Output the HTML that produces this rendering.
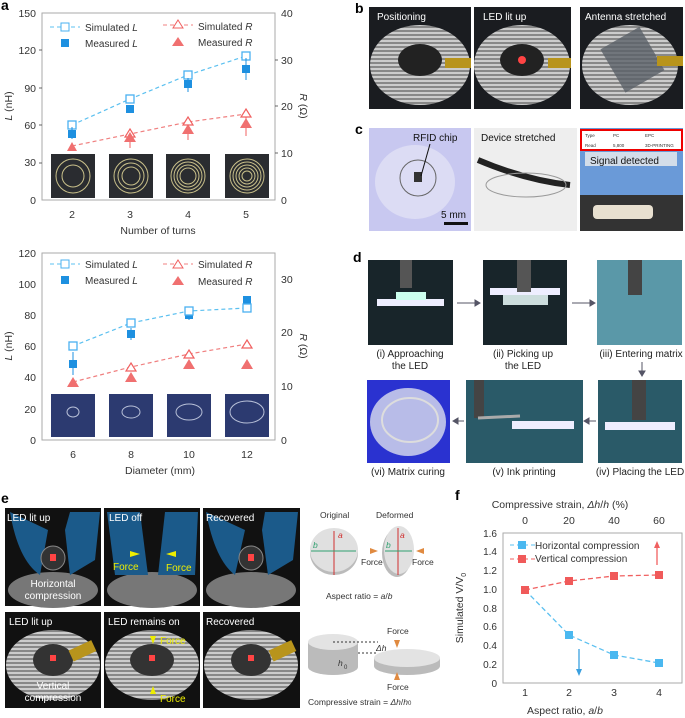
<!DOCTYPE html>
<html><head><meta charset="utf-8"><style>
body{margin:0;background:#fff}
svg{display:block;font-family:"Liberation Sans",sans-serif}
</style></head><body>
<svg width="685" height="718" viewBox="0 0 685 718" xmlns="http://www.w3.org/2000/svg">
<defs>
<radialGradient id="coil" cx="50%" cy="55%" r="50%"><stop offset="0" stop-color="#222"/><stop offset="0.35" stop-color="#333"/><stop offset="0.4" stop-color="#bbb"/><stop offset="0.9" stop-color="#999"/><stop offset="1" stop-color="#111"/></radialGradient>
<pattern id="rings" width="4" height="4" patternUnits="userSpaceOnUse"><rect width="4" height="4" fill="#888"/><rect width="4" height="2" fill="#ccc"/></pattern>
</defs>
<g font-size="11" fill="#333">
<!-- ===== Panel a top ===== -->
<text x="1" y="10" font-weight="bold" font-size="14" fill="#000">a</text>
<rect x="42" y="13" width="233" height="187" fill="none" stroke="#aaa"/>
<g text-anchor="end" font-size="10.5"><text x="36" y="17">150</text><text x="36" y="54">120</text><text x="36" y="92">90</text><text x="36" y="129">60</text><text x="36" y="166">30</text><text x="36" y="204">0</text></g>
<g font-size="10.5"><text x="281" y="17">40</text><text x="281" y="64">30</text><text x="281" y="110">20</text><text x="281" y="157">10</text><text x="281" y="204">0</text></g>
<g text-anchor="middle" font-size="10.5"><text x="72" y="218">2</text><text x="130" y="218">3</text><text x="188" y="218">4</text><text x="246" y="218">5</text><text x="158" y="234">Number of turns</text></g>
<text transform="translate(12,106) rotate(-90)" text-anchor="middle" font-size="10.5"><tspan font-style="italic">L</tspan> (nH)</text>
<text transform="translate(300,106) rotate(90)" text-anchor="middle" font-size="10.5"><tspan font-style="italic">R</tspan> (Ω)</text>
<g stroke="#444" stroke-width="0.8"><line x1="42" y1="50" x2="39" y2="50"/><line x1="42" y1="88" x2="39" y2="88"/><line x1="42" y1="125" x2="39" y2="125"/><line x1="42" y1="163" x2="39" y2="163"/><line x1="275" y1="60" x2="278" y2="60"/><line x1="275" y1="106" x2="278" y2="106"/><line x1="275" y1="153" x2="278" y2="153"/></g>
<g fill="#333">
<rect x="51" y="154" width="44" height="44" fill="#2a2c30"/><rect x="109" y="154" width="44" height="44" fill="#2a2c30"/><rect x="166" y="154" width="44" height="44" fill="#2a2c30"/><rect x="225" y="154" width="44" height="44" fill="#2a2c30"/>
<g fill="none" stroke="#c9c08a" stroke-width="1"><circle cx="73" cy="176" r="17"/><circle cx="73" cy="176" r="11"/><circle cx="131" cy="176" r="17"/><circle cx="131" cy="176" r="13"/><circle cx="131" cy="176" r="9"/><circle cx="188" cy="176" r="17"/><circle cx="188" cy="176" r="14"/><circle cx="188" cy="176" r="11"/><circle cx="188" cy="176" r="8"/><circle cx="247" cy="176" r="17"/><circle cx="247" cy="176" r="14"/><circle cx="247" cy="176" r="11"/><circle cx="247" cy="176" r="8"/><circle cx="247" cy="176" r="5"/></g>
</g>
<polyline points="72,125 130,99 188,75 246,56" fill="none" stroke="#5bc0f0" stroke-dasharray="4,3" stroke-width="1.2"/>
<polyline points="72,146 130,134 188,122 246,114" fill="none" stroke="#f08080" stroke-dasharray="4,3" stroke-width="1.2"/>
<g fill="#fff" stroke="#4ab0f0" stroke-width="1.3"><rect x="68" y="121" width="8" height="8"/><rect x="126" y="95" width="8" height="8"/><rect x="184" y="71" width="8" height="8"/><rect x="242" y="52" width="8" height="8"/></g>
<g stroke="#1e90e0"><line x1="72" y1="127" x2="72" y2="139"/><line x1="188" y1="78" x2="188" y2="92"/><line x1="246" y1="58" x2="246" y2="80"/></g>
<g fill="#1e90e0"><rect x="68" y="130" width="8" height="8"/><rect x="126" y="105" width="8" height="8"/><rect x="184" y="80" width="8" height="8"/><rect x="242" y="65" width="8" height="8"/></g>
<g stroke="#f06060"><line x1="130" y1="130" x2="130" y2="148"/><line x1="188" y1="122" x2="188" y2="140"/><line x1="246" y1="114" x2="246" y2="136"/></g>
<g fill="#fff" stroke="#f06060" stroke-width="1.2"><polygon points="130,129 135,137 125,137"/><polygon points="188,117 193,125 183,125"/><polygon points="246,109 251,117 241,117"/></g>
<g fill="#f07070"><polygon points="72,142 77,151 67,151"/><polygon points="130,132 136,142 124,142"/><polygon points="188,124 194,134 182,134"/><polygon points="246,118 252,128 240,128"/></g>
<g font-size="10"><line x1="50" y1="27" x2="80" y2="27" stroke="#5bc0f0" stroke-dasharray="4,3"/><rect x="61" y="23" width="8" height="8" fill="#fff" stroke="#4ab0f0"/><text x="85" y="31">Simulated <tspan font-style="italic">L</tspan></text>
<rect x="61" y="39" width="8" height="8" fill="#1e90e0"/><text x="85" y="47">Measured <tspan font-style="italic">L</tspan></text>
<line x1="163" y1="25" x2="193" y2="25" stroke="#f08080" stroke-dasharray="4,3"/><polygon points="178,20 183,28 173,28" fill="#fff" stroke="#f06060"/><text x="198" y="30">Simulated <tspan font-style="italic">R</tspan></text>
<polygon points="178,37 184,46 172,46" fill="#f07070"/><text x="198" y="46">Measured <tspan font-style="italic">R</tspan></text></g>

<!-- ===== Panel a bottom ===== -->
<rect x="42" y="253" width="233" height="187" fill="none" stroke="#aaa"/>
<g text-anchor="end" font-size="10.5"><text x="36" y="257">120</text><text x="36" y="288">100</text><text x="36" y="319">80</text><text x="36" y="350">60</text><text x="36" y="381">40</text><text x="36" y="413">20</text><text x="36" y="444">0</text></g>
<g font-size="10.5"><text x="281" y="283">30</text><text x="281" y="336">20</text><text x="281" y="390">10</text><text x="281" y="444">0</text></g>
<g text-anchor="middle" font-size="10.5"><text x="73" y="458">6</text><text x="131" y="458">8</text><text x="189" y="458">10</text><text x="247" y="458">12</text><text x="160" y="474">Diameter (mm)</text></g>
<text transform="translate(12,346) rotate(-90)" text-anchor="middle" font-size="10.5"><tspan font-style="italic">L</tspan> (nH)</text>
<text transform="translate(300,346) rotate(90)" text-anchor="middle" font-size="10.5"><tspan font-style="italic">R</tspan> (Ω)</text>
<g fill="#2c3a70"><rect x="51" y="394" width="44" height="43"/><rect x="109" y="394" width="44" height="43"/><rect x="167" y="394" width="44" height="43"/><rect x="225" y="394" width="44" height="43"/></g>
<g fill="none" stroke="#b8c0d8" stroke-width="1"><ellipse cx="73" cy="412" rx="6" ry="5"/><ellipse cx="131" cy="412" rx="9" ry="6"/><ellipse cx="189" cy="412" rx="13" ry="8"/><ellipse cx="247" cy="412" rx="17" ry="11"/></g>
<polyline points="73,346 131,323 189,311 247,308" fill="none" stroke="#5bc0f0" stroke-dasharray="4,3" stroke-width="1.2"/>
<polyline points="73,382 131,367 189,354 247,344" fill="none" stroke="#f08080" stroke-dasharray="4,3" stroke-width="1.2"/>
<g stroke="#1e90e0"><line x1="73" y1="352" x2="73" y2="375"/><line x1="131" y1="328" x2="131" y2="340"/><line x1="189" y1="308" x2="189" y2="320"/></g>
<g fill="#1e90e0"><rect x="69" y="360" width="8" height="8"/><rect x="127" y="330" width="8" height="8"/><rect x="185" y="311" width="8" height="8"/><rect x="243" y="296" width="8" height="8"/></g>
<g fill="#fff" stroke="#4ab0f0" stroke-width="1.3"><rect x="69" y="342" width="8" height="8"/><rect x="127" y="319" width="8" height="8"/><rect x="185" y="307" width="8" height="8"/><rect x="243" y="304" width="8" height="8"/></g>
<g fill="#fff" stroke="#f06060" stroke-width="1.2"><polygon points="131,363 136,371 126,371"/><polygon points="189,350 194,358 184,358"/><polygon points="247,340 252,348 242,348"/></g>
<g fill="#f07070"><polygon points="73,377 79,387 67,387"/><polygon points="131,372 137,382 125,382"/><polygon points="189,359 195,369 183,369"/><polygon points="247,359 253,369 241,369"/></g>
<g font-size="10"><line x1="50" y1="264" x2="80" y2="264" stroke="#5bc0f0" stroke-dasharray="4,3"/><rect x="61" y="260" width="8" height="8" fill="#fff" stroke="#4ab0f0"/><text x="85" y="268">Simulated <tspan font-style="italic">L</tspan></text>
<rect x="61" y="276" width="8" height="8" fill="#1e90e0"/><text x="85" y="284">Measured <tspan font-style="italic">L</tspan></text>
<line x1="163" y1="264" x2="193" y2="264" stroke="#f08080" stroke-dasharray="4,3"/><polygon points="178,260 183,268 173,268" fill="#fff" stroke="#f06060"/><text x="198" y="268">Simulated <tspan font-style="italic">R</tspan></text>
<polygon points="178,276 184,285 172,285" fill="#f07070"/><text x="198" y="285">Measured <tspan font-style="italic">R</tspan></text></g>

<!-- ===== Panel b ===== -->
<text x="355" y="13" font-weight="bold" font-size="14" fill="#000">b</text>
<g>
<rect x="369" y="7" width="102" height="102" fill="#1a1c20"/><ellipse cx="420" cy="65" rx="50" ry="40" fill="url(#rings)"/><ellipse cx="420" cy="60" rx="22" ry="16" fill="#222"/>
<rect x="474" y="7" width="97" height="102" fill="#1a1c20"/><ellipse cx="522" cy="65" rx="48" ry="40" fill="url(#rings)"/><ellipse cx="522" cy="60" rx="22" ry="16" fill="#222"/><circle cx="522" cy="60" r="4" fill="#f44"/>
<rect x="580" y="7" width="103" height="102" fill="#1a1c20"/><ellipse cx="630" cy="65" rx="48" ry="40" fill="url(#rings)"/><rect x="610" y="35" width="45" height="50" fill="#5a6068" opacity="0.8" transform="rotate(-30 632 60)"/>
<rect x="445" y="58" width="26" height="10" fill="#b8941c"/><rect x="548" y="58" width="23" height="10" fill="#b8941c"/><rect x="657" y="56" width="26" height="10" fill="#b8941c"/>
<g fill="#fff" font-size="10"><text x="377" y="20">Positioning</text><text x="483" y="20">LED lit up</text><text x="585" y="20">Antenna stretched</text></g>
</g>
<!-- ===== Panel c ===== -->
<text x="355" y="134" font-weight="bold" font-size="14" fill="#000">c</text>
<rect x="369" y="128" width="102" height="103" fill="#c8c8f0"/><ellipse cx="415" cy="182" rx="40" ry="37" fill="#dcdcf4"/><circle cx="418" cy="178" r="18" fill="none" stroke="#666"/><rect x="414" y="172" width="8" height="10" fill="#333"/>
<text x="413" y="141" font-size="10" fill="#111">RFID chip</text><line x1="430" y1="144" x2="421" y2="176" stroke="#111"/>
<text x="441" y="218" font-size="10" fill="#111">5 mm</text><rect x="444" y="222" width="24" height="3" fill="#111"/>
<rect x="474" y="128" width="103" height="103" fill="#eeeeee"/><path d="M478 160 Q525 180 570 185" stroke="#222" stroke-width="6" fill="none"/><ellipse cx="526" cy="185" rx="40" ry="12" fill="none" stroke="#999"/>
<text x="481" y="141" font-size="10" fill="#111">Device stretched</text>
<rect x="580" y="128" width="103" height="103" fill="#6a9ad8"/><rect x="580" y="195" width="103" height="36" fill="#333"/><rect x="593" y="205" width="60" height="14" rx="4" fill="#e8e0d0"/>
<rect x="581" y="130" width="101" height="20" fill="#fff" stroke="#e00" stroke-width="2"/>
<g font-size="4.5" fill="#333"><text x="585" y="137">Type</text><text x="613" y="137">PC</text><text x="645" y="137">EPC</text><text x="585" y="147">Read</text><text x="613" y="147">5,800</text><text x="645" y="147">3D-PRINTING</text></g>
<rect x="585" y="152" width="92" height="14" fill="#eee" opacity="0.8"/><text x="590" y="164" font-size="10" fill="#111">Signal detected</text>

<!-- ===== Panel d ===== -->
<text x="353" y="262" font-weight="bold" font-size="14" fill="#000">d</text>
<rect x="368" y="260" width="85" height="85" fill="#18252a"/><rect x="377" y="299" width="67" height="7" fill="#eef"/><rect x="396" y="292" width="30" height="8" fill="#cfe"/><rect x="400" y="260" width="12" height="28" fill="#555"/>
<rect x="483" y="260" width="84" height="85" fill="#18252a"/><rect x="490" y="288" width="70" height="7" fill="#eef"/><rect x="503" y="295" width="45" height="10" fill="#cdd"/><rect x="517" y="260" width="14" height="32" fill="#555"/>
<rect x="597" y="260" width="85" height="85" fill="#5a98a8"/><rect x="628" y="260" width="14" height="35" fill="#444"/>
<rect x="367" y="380" width="83" height="83" fill="#2a32d0"/><ellipse cx="408" cy="422" rx="38" ry="34" fill="#b8bce8"/><ellipse cx="410" cy="420" rx="28" ry="22" fill="none" stroke="#ddd" stroke-width="2"/>
<rect x="466" y="380" width="117" height="83" fill="#2a5a68"/><rect x="512" y="421" width="62" height="8" fill="#eef"/><rect x="474" y="380" width="10" height="38" fill="#444"/><path d="M478 418 L520 416" stroke="#aaa" stroke-width="3"/>
<rect x="598" y="380" width="84" height="83" fill="#2a5a68"/><rect x="605" y="422" width="70" height="8" fill="#eef"/><rect x="632" y="380" width="14" height="40" fill="#444"/>
<g stroke="#556" fill="#556"><line x1="457" y1="303" x2="478" y2="303"/><polygon points="480,303 475,300 475,306"/><line x1="572" y1="303" x2="592" y2="303"/><polygon points="595,303 590,300 590,306"/><line x1="642" y1="362" x2="642" y2="373"/><polygon points="642,376 639,371 645,371"/><line x1="592" y1="421" x2="588" y2="421"/><line x1="596" y1="421" x2="586" y2="421"/><polygon points="584,421 589,418 589,424"/><line x1="464" y1="421" x2="455" y2="421"/><polygon points="453,421 458,418 458,424"/></g>
<g font-size="10" text-anchor="middle" fill="#222"><text x="410" y="357">(i) Approaching</text><text x="410" y="369">the LED</text><text x="523" y="357">(ii) Picking up</text><text x="523" y="369">the LED</text><text x="641" y="357">(iii) Entering matrix</text>
<text x="408" y="475">(vi) Matrix curing</text><text x="524" y="475">(v) Ink printing</text><text x="640" y="475">(iv) Placing the LED</text></g>

<!-- ===== Panel e ===== -->
<text x="1" y="503" font-weight="bold" font-size="14" fill="#000">e</text>
<g>
<rect x="5" y="508" width="96" height="98" fill="#111"/><rect x="104" y="508" width="96" height="98" fill="#111"/><rect x="203" y="508" width="97" height="98" fill="#111"/>
<ellipse cx="53" cy="590" rx="45" ry="18" fill="#777"/><ellipse cx="152" cy="590" rx="45" ry="18" fill="#777"/><ellipse cx="251" cy="590" rx="45" ry="18" fill="#777"/>
<path d="M10 512 Q18 560 40 575 L48 530 Z" fill="#1b5a8a"/><path d="M70 512 L100 512 L95 560 L70 575 L65 530 Z" fill="#1b5a8a"/>
<path d="M107 512 L140 512 L148 575 L115 575 Z" fill="#1b5a8a"/><path d="M165 512 L198 512 L195 575 L158 575 Z" fill="#1b5a8a"/>
<path d="M206 512 Q215 560 235 575 L245 530 Z" fill="#1b5a8a"/><path d="M265 512 L298 512 L293 560 L268 575 L262 530 Z" fill="#1b5a8a"/>
<circle cx="53" cy="558" r="12" fill="#333" stroke="#888"/><rect x="50" y="554" width="6" height="7" fill="#f44"/><circle cx="251" cy="558" r="12" fill="#333" stroke="#888"/><rect x="248" y="554" width="6" height="7" fill="#f44"/>
<g fill="#fff" font-size="10"><text x="7" y="521">LED lit up</text><text x="109" y="521">LED off</text><text x="206" y="521">Recovered</text><text x="53" y="587" text-anchor="middle">Horizontal</text><text x="53" y="599" text-anchor="middle">compression</text></g>
<g fill="#ee0" font-size="10"><text x="113" y="570">Force</text><text x="166" y="571">Force</text><polygon points="140,554 130,551 130,557"/><polygon points="166,554 176,551 176,557"/></g>
<rect x="5" y="612" width="96" height="96" fill="#111"/><rect x="104" y="612" width="96" height="96" fill="#111"/><rect x="203" y="612" width="97" height="96" fill="#111"/>
<ellipse cx="53" cy="665" rx="47" ry="35" fill="url(#rings)"/><ellipse cx="152" cy="665" rx="47" ry="35" fill="url(#rings)"/><ellipse cx="251" cy="665" rx="47" ry="35" fill="url(#rings)"/>
<ellipse cx="53" cy="660" rx="20" ry="16" fill="#333"/><ellipse cx="152" cy="660" rx="22" ry="16" fill="#333"/><ellipse cx="251" cy="660" rx="20" ry="16" fill="#333"/>
<rect x="50" y="655" width="6" height="6" fill="#f44"/><rect x="149" y="655" width="6" height="6" fill="#f44"/><rect x="248" y="655" width="6" height="6" fill="#f44"/>
<rect x="70" y="645" width="25" height="12" fill="#b8941c" transform="rotate(-25 82 651)"/><rect x="270" y="645" width="25" height="12" fill="#b8941c" transform="rotate(-25 282 651)"/>
<g fill="#fff" font-size="10"><text x="9" y="625">LED lit up</text><text x="108" y="625">LED remains on</text><text x="206" y="625">Recovered</text><text x="53" y="689" text-anchor="middle">Vertical</text><text x="53" y="701" text-anchor="middle">compression</text></g>
<g fill="#ee0" font-size="10"><text x="160" y="644">Force</text><text x="160" y="702">Force</text><polygon points="153,644 150,636 156,636"/><polygon points="153,686 150,694 156,694"/></g>
</g>
<!-- e diagrams -->
<g font-size="8.5" fill="#333">
<text x="320" y="518">Original</text><text x="376" y="518">Deformed</text>
<ellipse cx="334" cy="553" rx="24" ry="22" fill="#bbb"/><ellipse cx="334" cy="550" rx="24" ry="22" fill="#e0e0e0"/>
<ellipse cx="397" cy="553" rx="15" ry="24" fill="#bbb"/><ellipse cx="399" cy="550" rx="15" ry="24" fill="#e0e0e0"/>
<g stroke="#d03030"><line x1="334" y1="531" x2="334" y2="575"/><line x1="398" y1="528" x2="398" y2="575"/></g>
<g stroke="#30a070"><line x1="311" y1="551" x2="356" y2="551"/><line x1="385" y1="551" x2="412" y2="551"/></g>
<text x="338" y="538" fill="#d03030" font-style="italic">a</text><text x="400" y="538" fill="#d03030" font-style="italic">a</text><text x="313" y="548" fill="#30a070" font-style="italic">b</text><text x="386" y="548" fill="#30a070" font-style="italic">b</text>
<g fill="#e08a40"><polygon points="378,551 370,548 370,554"/><polygon points="416,551 424,548 424,554"/></g>
<text x="361" y="565">Force</text><text x="412" y="565">Force</text>
<text x="326" y="599">Aspect ratio = <tspan font-style="italic">a</tspan>/<tspan font-style="italic">b</tspan></text>
<path d="M308 642 L308 667 A25 8 0 0 0 358 667 L358 642 Z" fill="#bbb"/><ellipse cx="333" cy="642" rx="25" ry="8" fill="#e3e3e3"/>
<path d="M374 658 L374 666 A33 9 0 0 0 440 666 L440 658 Z" fill="#bbb"/><ellipse cx="407" cy="658" rx="33" ry="9" fill="#e3e3e3"/>
<line x1="333" y1="642" x2="378" y2="642" stroke="#333" stroke-dasharray="2,2"/><line x1="358" y1="653" x2="378" y2="653" stroke="#333" stroke-dasharray="2,2"/>
<text x="376" y="651" font-style="italic">Δh</text><text x="338" y="666" font-style="italic">h</text><text x="344" y="669" font-size="6">0</text>
<text x="387" y="634">Force</text><text x="387" y="690">Force</text>
<g fill="#e08a40"><polygon points="397,648 394,640 400,640"/><polygon points="397,672 394,680 400,680"/></g>
<text x="308" y="705">Compressive strain = <tspan font-style="italic">Δh</tspan>/<tspan font-style="italic">h</tspan><tspan font-size="6">0</tspan></text>
</g>

<!-- ===== Panel f ===== -->
<text x="455" y="500" font-weight="bold" font-size="14" fill="#000">f</text>
<text x="560" y="508" text-anchor="middle" font-size="10.5">Compressive strain, <tspan font-style="italic">Δh</tspan>/<tspan font-style="italic">h</tspan> (%)</text>
<g text-anchor="middle" font-size="10.5"><text x="525" y="524">0</text><text x="569" y="524">20</text><text x="614" y="524">40</text><text x="659" y="524">60</text>
<text x="525" y="696">1</text><text x="569" y="696">2</text><text x="614" y="696">3</text><text x="659" y="696">4</text>
<text x="565" y="714">Aspect ratio, <tspan font-style="italic">a</tspan>/<tspan font-style="italic">b</tspan></text></g>
<rect x="503" y="533" width="179" height="150" fill="none" stroke="#aaa"/>
<g text-anchor="end" font-size="10"><text x="497" y="537">1.6</text><text x="497" y="555">1.4</text><text x="497" y="574">1.2</text><text x="497" y="593">1.0</text><text x="497" y="612">0.8</text><text x="497" y="630">0.6</text><text x="497" y="649">0.4</text><text x="497" y="668">0.2</text><text x="497" y="687">0</text></g>
<text transform="translate(463,608) rotate(-90)" text-anchor="middle" font-size="10.5">Simulated V/V<tspan font-size="7" dy="3">0</tspan></text>
<polyline points="525,590 569,581 614,576 659,575" fill="none" stroke="#f06060" stroke-dasharray="5,3" stroke-width="1.3"/>
<polyline points="525,590 569,635 614,655 659,663" fill="none" stroke="#5bc0f0" stroke-dasharray="5,3" stroke-width="1.3"/>
<g fill="#4ab8f0"><rect x="565" y="631" width="8" height="8"/><rect x="610" y="651" width="8" height="8"/><rect x="655" y="659" width="8" height="8"/></g>
<g fill="#f05a5a"><rect x="521" y="586" width="8" height="8"/><rect x="565" y="577" width="8" height="8"/><rect x="610" y="572" width="8" height="8"/><rect x="655" y="571" width="8" height="8"/></g>
<line x1="579" y1="649" x2="579" y2="672" stroke="#3aa0e0" stroke-width="1.3"/><polygon points="579,676 576,669 582,669" fill="#3aa0e0"/>
<line x1="657" y1="565" x2="657" y2="545" stroke="#f06060" stroke-width="1.3"/><polygon points="657,541 654,548 660,548" fill="#f06060"/>
<g font-size="10"><line x1="510" y1="545" x2="535" y2="545" stroke="#5bc0f0" stroke-dasharray="4,3"/><rect x="518" y="541" width="8" height="8" fill="#4ab8f0"/><text x="535" y="549">Horizontal compression</text>
<line x1="510" y1="559" x2="535" y2="559" stroke="#f06060" stroke-dasharray="4,3"/><rect x="518" y="555" width="8" height="8" fill="#f05a5a"/><text x="535" y="562">Vertical compression</text></g>
</g>
</svg>
</body></html>
